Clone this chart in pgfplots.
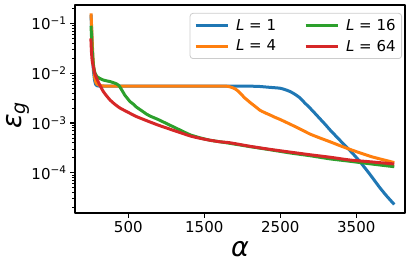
\documentclass[border=0pt]{standalone}
\usepackage{fontspec}
\setmainfont{DejaVu Sans}
\usepackage{pgfplots}
\pgfplotsset{compat=1.18}
\definecolor{tabblue}{HTML}{1F77B4}
\definecolor{taborange}{HTML}{FF7F0E}
\definecolor{tabgreen}{HTML}{2CA02C}
\definecolor{tabred}{HTML}{D62728}
\begin{document}
\begin{tikzpicture}
\begin{axis}[
  at={(0pt,0pt)}, anchor=south west,
  scale only axis, width=330pt, height=208pt,
  xmin=-201, xmax=4141,
  ymode=log, ymin=1.55e-5, ymax=0.235,
  axis line style={black, line width=1.1pt},
  tick align=outside, tick pos=left,
  major tick length=4.9pt, minor tick length=2.8pt,
  every tick/.style={black, line width=1.1pt},
  every minor tick/.style={black, line width=0.8pt},
  xtick={500,1500,2500,3500},
  xticklabels={500,1500,2500,3500},
  ytick={1e-4,1e-3,1e-2,1e-1},
  yticklabels={10\textsuperscript{−4},10\textsuperscript{−3},10\textsuperscript{−2},10\textsuperscript{−1}},
  minor ytick={2e-5,3e-5,4e-5,5e-5,6e-5,7e-5,8e-5,9e-5,
               2e-4,3e-4,4e-4,5e-4,6e-4,7e-4,8e-4,9e-4,
               2e-3,3e-3,4e-3,5e-3,6e-3,7e-3,8e-3,9e-3,
               2e-2,3e-2,4e-2,5e-2,6e-2,7e-2,8e-2,9e-2,2e-1},
  ticklabel style={font=\fontsize{15}{18}\selectfont},
  /pgf/number format/assume math mode=true,
  xlabel={\fontsize{27}{30}\selectfont\itshape α},
  ylabel={\fontsize{27}{30}\selectfont\itshape ε\textsubscript{g}},
  xlabel style={at={(axis description cs:0.5,-0.173)}, anchor=center},
  ylabel style={at={(axis description cs:-0.174,0.47)}, anchor=center, rotate=0},
  legend columns=2, transpose legend,
  legend cell align=left,
  legend image code/.code={\draw[#1, line width=3pt] (0pt,0pt) -- (32pt,0pt);},
  legend style={at={(axis description cs:0.991,0.962)}, anchor=north east,
    font=\fontsize{15}{18}\selectfont,
    draw=black!20, line width=0.8pt, rounded corners=3pt, fill=white,
    inner xsep=4pt, inner ysep=4pt, row sep=4pt,
    /tikz/every odd column/.append style={column sep=5pt},
    /tikz/every even column/.append style={column sep=26pt}},
  line join=round,
  every axis plot/.append style={smooth, tension=0.3},
]
\addplot[tabblue, line width=3pt] coordinates {
(10,0.15) (20,0.06) (30,0.025) (40,0.012) (55,0.0075) (70,0.006) (90,0.0056) (150,0.0055)
(500,0.0055) (1000,0.0055) (1500,0.0055) (2000,0.0055) (2200,0.00545) (2364,0.0052)
(2496,0.0050) (2560,0.0047) (2627,0.0043) (2690,0.0038) (2758,0.0032) (2820,0.00255) (2890,0.0020)
(2955,0.00157) (3021,0.00122) (3090,0.00094) (3153,0.00073) (3220,0.00057) (3284,0.00045)
(3350,0.000355) (3416,0.00028) (3480,0.00022) (3547,0.000168) (3610,0.000127) (3679,0.000093)
(3745,0.000068) (3810,0.00005) (3900,0.000034) (4000,0.000023)
};
\addlegendentry{\textit{L} = 1}
\addplot[taborange, line width=3pt] coordinates {
(10,0.16) (20,0.07) (30,0.03) (40,0.016) (55,0.009) (70,0.0068) (90,0.006) (120,0.0057) (200,0.0055)
(500,0.0055) (1000,0.0055) (1500,0.0055) (1780,0.0055) (1820,0.0054) (1860,0.0052) (1900,0.0049)
(1935,0.0045) (1970,0.0040) (2000,0.0036) (2030,0.0032) (2065,0.0029) (2100,0.0026) (2170,0.00215)
(2233,0.0018) (2300,0.0016) (2364,0.00145) (2430,0.0013) (2496,0.00118) (2627,0.00095) (2758,0.00076)
(2890,0.0006) (3020,0.0005) (3153,0.00042) (3285,0.00035) (3416,0.000295) (3550,0.00025)
(3700,0.00021) (3850,0.000183) (4000,0.00016)
};
\addlegendentry{\textit{L} = 4}
\addplot[tabgreen, line width=3pt] coordinates {
(10,0.09) (20,0.04) (30,0.022) (40,0.015) (55,0.011) (70,0.0095) (90,0.0085) (130,0.0078)
(171,0.0073) (220,0.007) (260,0.0068) (300,0.0065) (347,0.0061) (375,0.0057) (400,0.0050)
(430,0.0042) (456,0.0036) (490,0.0031) (522,0.0027) (565,0.0024) (610,0.00207) (680,0.00175)
(742,0.0015) (800,0.00135) (890,0.00118) (1000,0.00098) (1150,0.00076) (1312,0.00058)
(1450,0.00050) (1575,0.00045) (1700,0.00042) (1838,0.00039) (2100,0.000335) (2364,0.00029)
(2627,0.00025) (2890,0.00022) (3153,0.00019) (3416,0.00017) (3700,0.00015) (4000,0.000132)
};
\addlegendentry{\textit{L} = 16}
\addplot[tabred, line width=3pt] coordinates {
(8,0.05) (15,0.028) (25,0.018) (40,0.0136) (60,0.0098) (84,0.0079) (120,0.0060) (171,0.0043)
(215,0.0035) (260,0.0029) (320,0.0024) (390,0.0020) (500,0.00163) (610,0.00134) (750,0.0011)
(890,0.00091) (1050,0.00075) (1312,0.00055) (1450,0.00049) (1575,0.00045) (1700,0.00042)
(1838,0.0004) (2100,0.00034) (2364,0.000295) (2627,0.00026) (2890,0.00023) (3153,0.000205)
(3416,0.00018) (3700,0.000165) (4000,0.00015)
};
\addlegendentry{\textit{L} = 64}
\end{axis}
\pgfresetboundingbox
\path (-75pt,-53pt) rectangle (340pt,213pt);
\end{tikzpicture}
\end{document}
